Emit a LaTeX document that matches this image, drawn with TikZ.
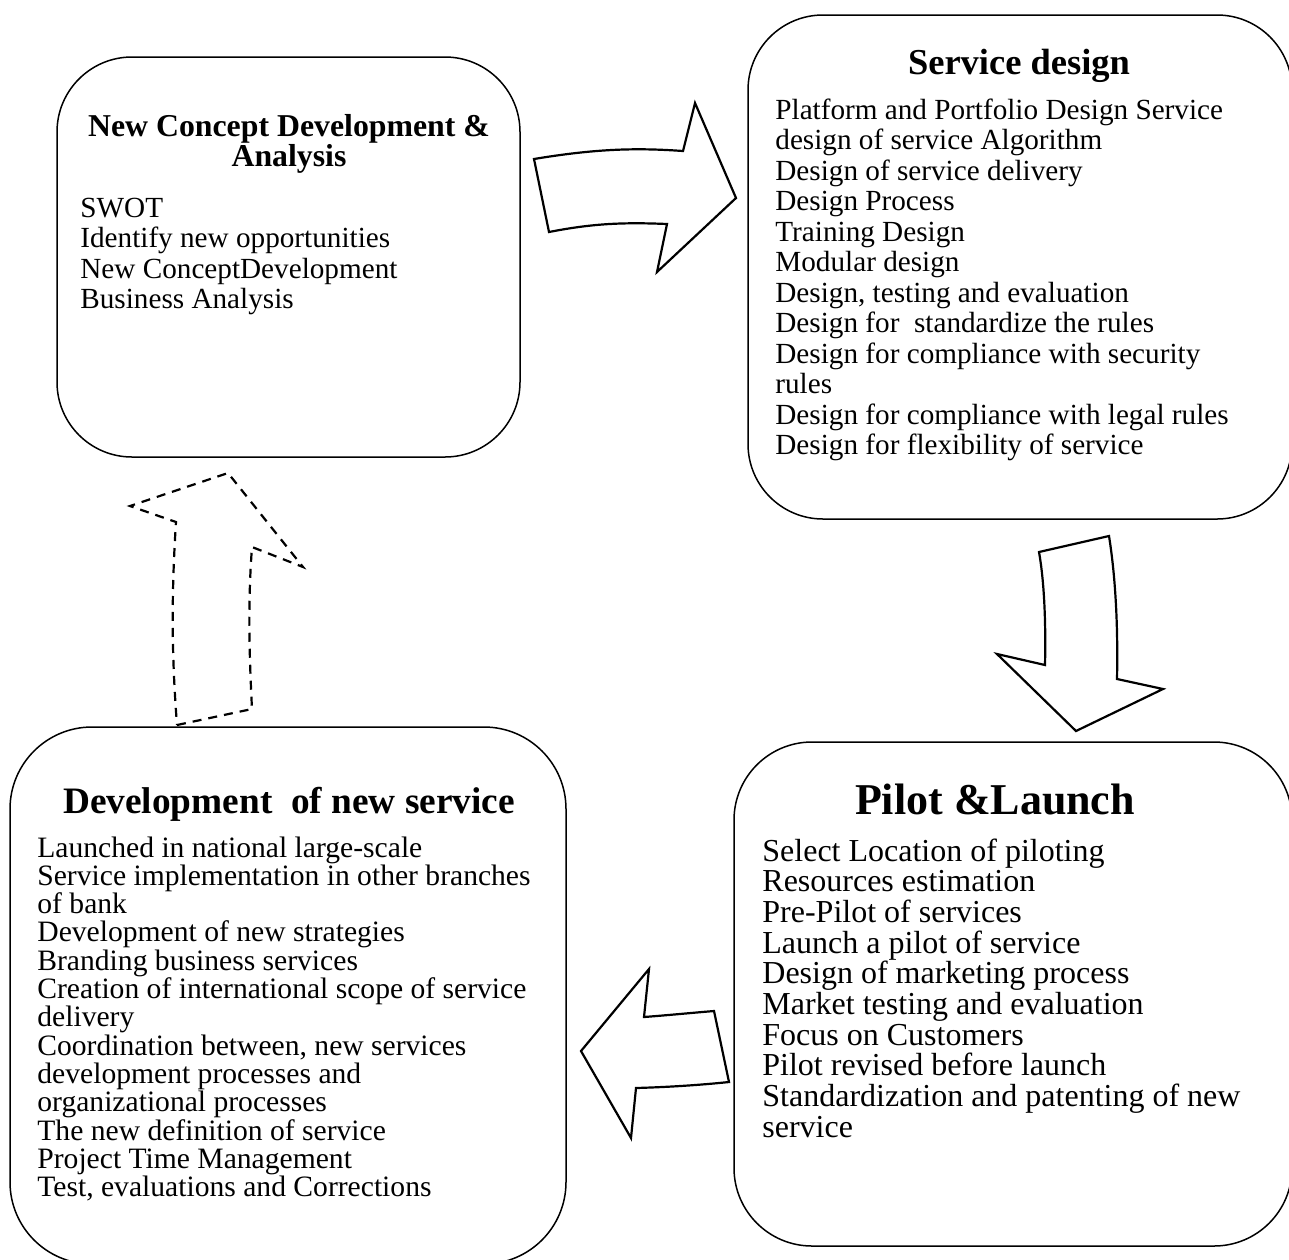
\documentclass[tikz,border=0pt]{standalone}
\usepackage{fontspec}
\setmainfont{Liberation Serif}
\begin{document}
\begin{tikzpicture}[x=0.5pt,y=-0.5pt,
  box/.style={draw, line width=0.75pt, inner sep=0pt},
  blockarrow/.style={draw, line width=1.1pt, line join=miter},
  dasharrow/.style={draw, line width=1.1pt, dash pattern=on 4.5pt off 3.5pt},
  txt/.style={inner sep=0pt, anchor=base west},
  ttl/.style={inner sep=0pt, anchor=base, font=\bfseries}]
\clip (0,0) rectangle (1289,1259);
% boxes
\node[box, minimum width=231.5pt, minimum height=200pt, rounded corners=37.5pt] (concept) at (288.5,257) {};
\node[box, minimum width=272pt, minimum height=252pt, rounded corners=37.5pt] (design) at (1020,267) {};
\node[box, minimum width=279pt, minimum height=252pt, rounded corners=39pt] (pilot) at (1013,994) {};
\node[box, minimum width=278pt, minimum height=268.5pt, rounded corners=41pt] (devel) at (288,995.5) {};
% titles
\node[ttl, font=\bfseries\fontsize{15.9}{17}\selectfont] (t1a) at (289,136) {New Concept Development \&};
\node[ttl, font=\bfseries\fontsize{15.9}{17}\selectfont] (t1b) at (289,166) {Analysis};
\node[ttl, font=\bfseries\fontsize{18.25}{20}\selectfont] (t2) at (1019,74) {Service design};
\node[ttl, font=\bfseries\fontsize{22}{24}\selectfont] (t3) at (995,814) {Pilot \&Launch};
\node[ttl, font=\bfseries\fontsize{18.65}{20}\selectfont] (t4) at (289,813) {Development\ \ of new service};
% box 1 list
\foreach \t [count=\i] in {SWOT, Identify new opportunities, New ConceptDevelopment, Business Analysis}
  \node[txt, font=\fontsize{14.6}{15}\selectfont] (c\i) at (80,{217+30.5*(\i-1)}) {\t};
% box 2 list
\foreach \t [count=\i] in {Platform and Portfolio Design Service, design of service Algorithm, Design of service delivery, Design Process, Training Design, Modular design, {Design, testing and evaluation}, Design for\ \ standardize the rules, Design for compliance with security, rules, Design for compliance with legal rules, Design for flexibility of service}
  \node[txt, font=\fontsize{14.6}{15}\selectfont] (s\i) at (775,{119+30.5*(\i-1)}) {\t};
% box 3 list
\foreach \t [count=\i] in {Select Location of piloting, Resources estimation, Pre-Pilot of services, Launch a pilot of service, Design of marketing process, Market testing and evaluation, Focus on Customers, Pilot revised before launch, Standardization and patenting of new, service}
  \node[txt, font=\fontsize{16}{17}\selectfont] (p\i) at (762,{861+30.7*(\i-1)}) {\t};
% box 4 list
\foreach \t [count=\i] in {Launched in national large-scale, Service implementation in other branches, of bank, Development of new strategies, Branding business services, Creation of international scope of service, delivery, {Coordination between, new services}, development processes and, organizational processes, The new definition of service, Project Time Management, {Test, evaluations and Corrections}}
  \node[txt, font=\fontsize{14.8}{15}\selectfont] (d\i) at (37,{857+28.3*(\i-1)}) {\t};
% block arrows
\draw[blockarrow] (534,159) .. controls (600,148) and (640,148) .. (683,151) -- (695,103) -- (736,198) -- (657,272) -- (667,224) .. controls (620,222) and (590,224) .. (549,232) -- cycle;
\draw[blockarrow] (1039,552) -- (1109,536) .. controls (1116,580) and (1118,630) .. (1117,679) -- (1163,689) -- (1076,731) -- (997,654) -- (1045,665) .. controls (1046,620) and (1044,580) .. (1039,552) -- cycle;
\draw[blockarrow] (649,969) -- (644,1017) .. controls (670,1015) and (690,1013) .. (714,1011) -- (729,1082) .. controls (700,1085) and (670,1087) .. (636,1088) -- (631,1138) -- (581,1051) -- cycle;
\draw[dasharrow] (177,725) -- (252,709) .. controls (249,650) and (248,600) .. (252,547) -- (303,567) -- (228,473) -- (130,506) -- (176,522) .. controls (171,600) and (172,660) .. (177,725) -- cycle;
\end{tikzpicture}
\end{document}
